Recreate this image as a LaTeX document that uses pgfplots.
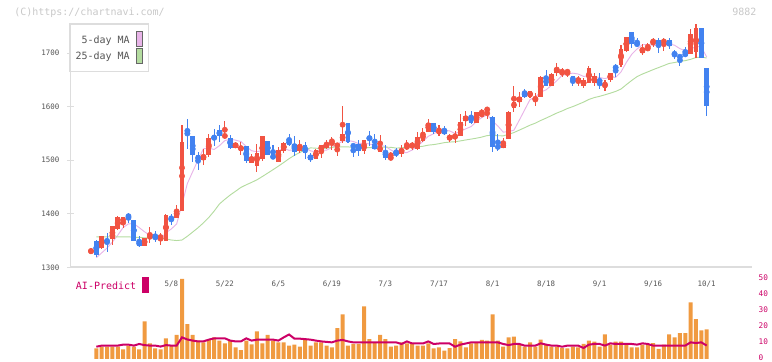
\documentclass[border=0pt]{standalone}
\usepackage{pgfplots}
\pgfplotsset{compat=1.18}
\usepackage{pgfplotstable}
\usepackage{fontspec}
\newfontfamily\monof{DejaVu Sans Mono}
\newcommand\tickfont{\monof\fontsize{5.6}{7}\selectfont}
\newcommand\legfont{\monof\fontsize{7.5}{9}\selectfont}
\newcommand\rfont{\monof\fontsize{5.8}{7}\selectfont}
\definecolor{upc}{HTML}{F15342}
\definecolor{dnc}{HTML}{4282F0}
\definecolor{mafive}{HTML}{E8B4E8}
\definecolor{matwf}{HTML}{B4DCA0}
\definecolor{volc}{HTML}{F09A40}
\definecolor{aic}{HTML}{CC0066}
\definecolor{axc}{HTML}{DDDDDD}
\definecolor{txc}{HTML}{555555}
\definecolor{cpc}{HTML}{C8C8C8}

\pgfplotstableread{
i o h l c
1 1330 1331 1329 1331
3 1336 1359 1334 1358
5 1352 1377 1342 1377
6 1371 1395 1370 1394
7 1383 1394 1373 1394
11 1340 1355 1340 1355
12 1354 1376 1345 1360
14 1355 1365 1342 1358
15 1350 1400 1350 1398
17 1393 1416 1393 1407
18 1406 1566 1406 1535
22 1500 1522 1491 1510
23 1509 1550 1507 1542
26 1544 1573 1541 1547
28 1523 1533 1523 1533
29 1518 1535 1510 1527
31 1495 1511 1494 1507
32 1489 1530 1479 1514
33 1502 1545 1499 1545
36 1497 1524 1497 1519
37 1517 1535 1514 1533
40 1518 1538 1513 1529
43 1502 1521 1502 1519
44 1517 1529 1504 1529
45 1523 1537 1522 1533
46 1533 1544 1520 1538
47 1526 1532 1508 1530
48 1536 1601 1532 1549
52 1518 1538 1511 1538
55 1516 1547 1516 1527
57 1503 1516 1503 1506
59 1512 1529 1507 1522
60 1521 1538 1519 1529
61 1527 1535 1519 1529
62 1521 1552 1519 1544
63 1536 1561 1535 1552
64 1553 1578 1553 1570
66 1549 1566 1546 1558
68 1540 1550 1535 1544
69 1543 1555 1533 1547
70 1545 1587 1545 1571
71 1573 1593 1564 1583
73 1569 1591 1569 1590
74 1585 1596 1583 1586
75 1594 1599 1577 1596
78 1523 1541 1523 1533
79 1540 1593 1540 1591
80 1598 1639 1591 1609
81 1608 1628 1600 1619
83 1619 1629 1617 1629
84 1614 1626 1601 1616
85 1619 1658 1619 1655
87 1639 1663 1639 1661
88 1664 1681 1658 1672
89 1664 1672 1655 1667
90 1664 1670 1656 1667
92 1647 1657 1639 1653
93 1639 1653 1636 1650
94 1644 1676 1644 1672
95 1644 1663 1638 1657
97 1641 1650 1630 1642
98 1650 1664 1647 1664
100 1678 1716 1675 1708
101 1705 1731 1703 1731
104 1701 1717 1696 1709
105 1707 1720 1704 1711
106 1720 1729 1711 1724
108 1719 1729 1705 1725
113 1699 1745 1699 1736
114 1703 1754 1692 1747
}\upcandles

\pgfplotstableread{
i o h l c
2 1350 1351 1320 1323
4 1351 1365 1329 1348
8 1398 1402 1383 1393
9 1388 1388 1350 1350
10 1349 1358 1338 1340
13 1360 1368 1348 1352
16 1393 1400 1379 1390
19 1557 1578 1522 1553
20 1545 1545 1497 1509
21 1509 1516 1482 1500
24 1544 1558 1527 1540
25 1557 1566 1535 1545
27 1542 1547 1521 1523
30 1527 1527 1495 1499
34 1536 1536 1510 1510
35 1511 1529 1502 1502
38 1538 1549 1527 1529
39 1530 1545 1508 1516
41 1529 1535 1502 1514
42 1510 1514 1497 1500
49 1570 1570 1532 1534
50 1529 1530 1507 1525
51 1530 1537 1508 1517
53 1545 1555 1527 1538
54 1530 1549 1521 1521
56 1517 1529 1500 1505
58 1516 1523 1507 1510
65 1570 1570 1550 1553
67 1558 1564 1547 1549
72 1583 1592 1568 1570
76 1580 1582 1516 1525
77 1527 1549 1518 1523
82 1627 1634 1617 1619
86 1655 1669 1638 1639
91 1657 1657 1639 1647
96 1645 1663 1634 1642
99 1677 1680 1655 1670
102 1740 1740 1709 1717
103 1720 1729 1711 1714
107 1725 1729 1701 1714
109 1725 1728 1708 1714
110 1700 1706 1689 1698
111 1695 1697 1677 1692
112 1702 1711 1694 1694
115 1747 1747 1691 1691
116 1673 1673 1582 1602
}\dncandles

\pgfplotstableread{
i m5 m25
2 1318 1357
3 1327 1357
4 1336 1357
5 1347.2 1357
6 1360 1357
7 1374.2 1357
8 1381.2 1357
9 1381.6 1356
10 1374.2 1356
11 1366.4 1355
12 1359.6 1355
13 1351.4 1355
14 1353 1354
15 1364.6 1353
16 1371.6 1351
17 1381 1350
18 1417.6 1351
19 1456.6 1358
20 1478.8 1366
21 1500.8 1374
22 1521.4 1383
23 1522.8 1393
24 1520.2 1405
25 1527.4 1418.4
26 1536.8 1427.1
27 1539.4 1435.1
28 1537.6 1442.1
29 1535 1449.3
30 1525.8 1454.2
31 1517.8 1458.7
32 1516 1463.5
33 1518.4 1469.6
34 1515 1476
35 1515.6 1482.4
36 1518 1489
37 1521.8 1495.9
38 1518.6 1503
39 1519.8 1509.3
40 1525.2 1514.6
41 1524.2 1519.5
42 1517.6 1523.2
43 1515.6 1522.6
44 1518.2 1521.6
45 1519 1522.6
46 1523.8 1524.1
47 1529.8 1524.9
48 1535.8 1525.2
49 1536.8 1525
50 1535.2 1524.2
51 1531 1523
52 1532.6 1523.6
53 1530.4 1523.8
54 1527.8 1523.5
55 1528.2 1524.6
56 1525.8 1524.6
57 1519.4 1524.2
58 1513.8 1522.8
59 1514 1523.3
60 1514.4 1524.4
61 1519.2 1524.8
62 1526.8 1525.2
63 1535.2 1526.2
64 1544.8 1528.3
65 1549.6 1529.3
66 1555.4 1531
67 1556.4 1533
68 1554.8 1534
69 1550.2 1534.7
70 1553.8 1536.2
71 1558.8 1538
72 1563 1539.6
73 1572.2 1541.3
74 1580 1543.4
75 1585 1546.2
76 1573.4 1546.5
77 1564 1545.9
78 1552.6 1545.7
79 1553.6 1548.5
80 1556.2 1551.8
81 1575 1556.4
82 1594.2 1560.9
83 1613.4 1565.6
84 1618.4 1569.4
85 1627.6 1574.4
86 1631.6 1578.8
87 1640 1583.5
88 1648.6 1588.3
89 1658.8 1592.2
90 1661.2 1596.8
91 1662.8 1600.3
92 1661.2 1604.5
93 1656.8 1608.7
94 1657.8 1613.7
95 1655.8 1617.2
96 1654.8 1619.5
97 1652.6 1622.4
98 1655.4 1625.4
99 1655 1628.7
100 1665.2 1633.2
101 1683 1641.4
102 1698 1649.2
103 1708 1656.4
104 1715.8 1661.2
105 1716.4 1665.2
106 1715 1669.4
107 1714.4 1673.2
108 1716.6 1677.1
109 1717.6 1681
110 1715 1682.7
111 1708.6 1684.8
112 1704.6 1686.2
113 1706.8 1688.7
114 1713.4 1691.9
115 1711.2 1692.9
116 1693.2 1691.1
}\matab

\pgfplotstableread{
i v a
2 6.5 7.5
3 7.5 8.2
4 7.5 8.2
5 7.5 8.2
6 7.5 8.2
7 5.9 8.8
8 8.2 8.8
9 7.5 8.2
10 5.9 9.2
11 23.2 8.5
12 9.6 8.2
13 6.5 8.2
14 5.9 7.6
15 12.7 8.5
16 8.2 8.2
17 14.8 8.2
18 49.6 13.3
19 21.6 12.0
20 14.8 11.3
21 11.3 10.8
22 10.2 10.8
23 12.2 11.9
24 13.3 12.7
25 11.3 12.7
26 9.6 12.7
27 11.3 11.3
28 7.1 10.8
29 5.4 10.8
30 11.3 12.7
31 9.0 11.3
32 17.0 11.9
33 9.6 11.9
34 14.8 11.9
35 11.3 11.9
36 10.2 11.3
37 10.2 13.3
38 8.2 15.1
39 8.8 12.5
40 7.5 12.5
41 12.2 12.2
42 8.2 11.9
43 10.2 11.3
44 10.2 10.8
45 8.2 10.5
46 7.1 10.2
47 19.1 11.3
48 27.6 11.7
49 8.2 10.8
50 9.2 10.2
51 9.2 10.2
52 32.6 10.2
53 12.2 10.2
54 10.2 10.2
55 14.8 10.2
56 12.2 10.2
57 7.5 10.2
58 8.2 10.2
59 10.2 9.2
60 9.6 10.8
61 9.2 9.5
62 8.2 9.5
63 8.2 9.5
64 9.6 10.8
65 6.5 9.2
66 7.1 9.5
67 5.0 9.5
68 6.7 9.5
69 12.2 7.5
70 10.8 8.8
71 7.1 9.5
72 9.6 10.2
73 10.2 10.2
74 11.7 10.2
75 11.3 10.2
76 27.6 10.2
77 11.3 10.2
78 7.5 9.2
79 13.3 8.5
80 13.8 9.2
81 8.8 9.2
82 7.5 8.2
83 10.2 8.2
84 7.5 8.2
85 11.9 9.6
86 8.8 8.8
87 7.5 8.2
88 7.5 8.2
89 6.7 7.5
90 6.5 8.2
91 7.5 8.2
92 7.1 8.2
93 9.2 6.7
94 11.3 8.8
95 10.6 9.2
96 7.5 9.2
97 15.1 8.2
98 8.8 9.6
99 10.6 9.2
100 10.6 9.2
101 9.8 9.2
102 7.1 9.2
103 7.1 8.8
104 8.8 9.6
105 8.8 9.2
106 9.8 8.2
107 6.1 8.2
108 8.8 8.2
109 15.1 8.2
110 13.3 8.2
111 15.9 8.2
112 15.9 8.2
113 35.1 10.2
114 24.7 9.8
115 17.6 10.2
116 18.2 8.2
}\voltab

\begin{document}
\begin{tikzpicture}[x=0.75pt,y=0.75pt]
\path[use as bounding box] (0,0) rectangle (772,361);

\begin{axis}[
  at={(53.025pt,70.275pt)}, anchor=south west, scale only axis,
  width=511.2pt, height=182.2pt, clip=false,
  xmin=-2.79, xmax=124.52, ymin=1300, ymax=1754,
  axis x line*=bottom, axis y line*=left,
  axis line style={draw=axc, line width=1.2pt, -},
  tick align=center, major tick length=5pt,
  xtick={16,26,36,46,56,66,76,86,96,106,116},
  xticklabels={5/8,5/22,6/5,6/19,7/3,7/17,8/1,8/18,9/1,9/16,10/1},
  xtick style={draw=none},
  xticklabel style={font=\tickfont, text=txc, yshift=-4pt},
  extra x ticks={-2.79,8.78,20.36,31.93,43.50,55.08,66.65,78.22,89.80,101.37,112.94,124.52},
  extra x tick labels={},
  extra x tick style={tick style={draw=axc, line width=1.2pt}},
  ytick={1300,1400,1500,1600,1700},
  yticklabels={1300,1400,1500,1600,1700},
  ytick style={draw=axc, line width=1pt},
  yticklabel style={font=\tickfont, text=txc, xshift=-2.5pt},
]
\addplot[mafive, line width=0.7pt] table[x=i, y=m5] {\matab};
\addplot[matwf, line width=0.7pt] table[x=i, y=m25] {\matab};
% wicks
\addplot[upc, only marks, mark=none, error bars/.cd, y dir=both, y explicit, error mark=none,
  error bar style={line width=0.8pt, upc}]
  table[x=i, y expr={(\thisrow{h}+\thisrow{l})/2}, y error expr={(\thisrow{h}-\thisrow{l})/2}] {\upcandles};
\addplot[dnc, only marks, mark=none, error bars/.cd, y dir=both, y explicit, error mark=none,
  error bar style={line width=0.8pt, dnc}]
  table[x=i, y expr={(\thisrow{h}+\thisrow{l})/2}, y error expr={(\thisrow{h}-\thisrow{l})/2}] {\dncandles};
% bodies
\addplot[upc, only marks, mark=none, error bars/.cd, y dir=both, y explicit, error mark=none,
  error bar style={line width=3.5pt, upc}]
  table[x=i, y expr={(\thisrow{o}+\thisrow{c})/2}, y error expr={max(abs(\thisrow{c}-\thisrow{o})/2,0.7)}] {\upcandles};
\addplot[dnc, only marks, mark=none, error bars/.cd, y dir=both, y explicit, error mark=none,
  error bar style={line width=3.5pt, dnc}]
  table[x=i, y expr={(\thisrow{o}+\thisrow{c})/2}, y error expr={max(abs(\thisrow{c}-\thisrow{o})/2,0.7)}] {\dncandles};
\end{axis}

\begin{axis}[
  at={(53.025pt,1.65pt)}, anchor=south west, scale only axis,
  width=511.2pt, height=60.4pt,
  xmin=-2.79, xmax=124.52, ymin=0, ymax=50,
  axis x line=none, axis y line*=right,
  y axis line style={draw=none},
  ytick={0,10,20,30,40,50},
  yticklabels={0,10,20,30,40,50},
  ytick style={draw=none},
  yticklabel style={font=\rfont, text=aic, anchor=west, xshift=1.2pt, yshift=0.6pt},
]
\addplot[ybar, bar width=3pt, bar shift=0pt, fill=volc, draw=none] table[x=i, y=v] {\voltab};
\addplot[aic, line width=1.5pt] table[x=i, y=a] {\voltab};
\end{axis}

% legend
\draw[axc, fill=white, line width=0.9pt] (70,337) rectangle (148.3,289.3);
\node[anchor=east, font=\legfont, text=txc, inner sep=0pt] at (130,320) {5-day MA};
\draw[fill=mafive, draw=gray!80!black, line width=0.7pt] (136.3,315) rectangle (142.7,329.3);
\node[anchor=east, font=\legfont, text=txc, inner sep=0pt] at (130,304) {25-day MA};
\draw[fill=matwf, draw=gray!80!black, line width=0.7pt] (136.3,298) rectangle (142.7,312.7);
% AI predict label
\node[anchor=west, font=\legfont, text=aic, inner sep=0pt] at (75.7,75.3) {AI-Predict};
\fill[aic] (141.7,68.3) rectangle (149.3,84.3);
% header texts
\node[anchor=west, font=\legfont, text=cpc, inner sep=0pt] at (14,348.7) {(C)https://chartnavi.com/};
\node[anchor=east, font=\legfont, text=cpc, inner sep=0pt] at (756.7,348.7) {9882};
\end{tikzpicture}
\end{document}
